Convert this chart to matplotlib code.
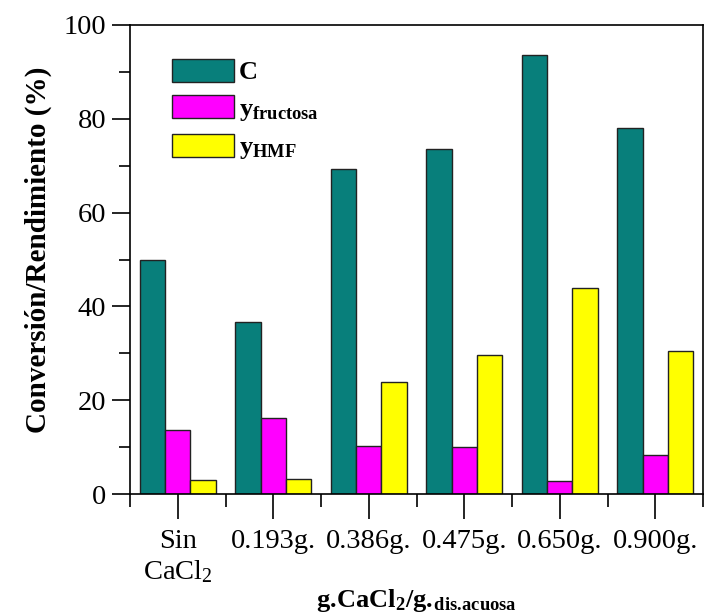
import matplotlib
matplotlib.use('agg')
import matplotlib.pyplot as plt
import numpy as np
from matplotlib.ticker import MultipleLocator, FixedLocator

plt.rcParams['font.family'] = 'Liberation Serif'
plt.rcParams['mathtext.fontset'] = 'custom'
plt.rcParams['mathtext.rm'] = 'Liberation Serif'
plt.rcParams['mathtext.it'] = 'Liberation Serif:italic'
plt.rcParams['mathtext.bf'] = 'Liberation Serif:bold'

######## data ########
categories = ['Sin\nCaCl$_2$', '0.193g.', '0.386g.', '0.475g.', '0.650g.', '0.900g.']
conv_C     = [50.0, 36.7, 69.4, 73.5, 93.7, 78.1]
y_fructosa = [13.6, 16.1, 10.2, 10.1, 2.8, 8.3]
y_HMF      = [3.0, 3.3, 23.8, 29.6, 43.9, 30.5]

names  = ['C', r'$\mathbf{y}_{\mathbf{fructosa}}$', r'$\mathbf{y}_{\mathbf{HMF}}$']
colors = ['#087f7b', '#ff00ff', '#ffff00']

fig = plt.figure(figsize=(7.08, 6.13), dpi=100)
ax = fig.add_axes([130/708, 1-494/613, 573/708, 469/613])

x = np.arange(len(categories))
w = 0.267
for k, (vals, nm, col) in enumerate(zip([conv_C, y_fructosa, y_HMF], names, colors)):
    ax.bar(x + (k-1)*w, vals, w, color=col, edgecolor='#222222', linewidth=1.0, label=nm)

ax.set_xlim(-0.5, 5.5)
ax.set_ylim(0, 100)
ax.set_xticks(x)
ax.set_xticklabels(categories, fontsize=20.5, linespacing=1.2)
ax.xaxis.set_minor_locator(FixedLocator(np.arange(-0.5, 6, 1.0)))
ax.yaxis.set_major_locator(MultipleLocator(20))
ax.yaxis.set_minor_locator(MultipleLocator(10))
ax.tick_params(axis='y', which='major', length=13, width=1.2, labelsize=20.5, pad=4)
ax.tick_params(axis='y', which='minor', length=8, width=1.2)
ax.tick_params(axis='x', which='major', length=18, width=1.2, pad=7)
ax.tick_params(axis='x', which='minor', length=9, width=1.2)
for s in ax.spines.values():
    s.set_linewidth(1.2)

ax.set_ylabel('Conversión/Rendimiento (%)', fontsize=21, fontweight='bold')
ax.yaxis.set_label_coords(-0.136, 0.52)
ax.set_xlabel(r'$\mathbf{g.\!CaCl_2/g._{\!dis.\!acuosa}}$', fontsize=19)
ax.xaxis.set_label_coords(0.5, -0.198)

leg = ax.legend(loc='upper left', bbox_to_anchor=(0.073, 0.928), frameon=False,
                prop={'size': 19, 'weight': 'bold'}, handlelength=2.35, handleheight=0.95,
                labelspacing=0.42, handletextpad=0.2, borderpad=0, borderaxespad=0)

fig.savefig('out.png', dpi=100)
